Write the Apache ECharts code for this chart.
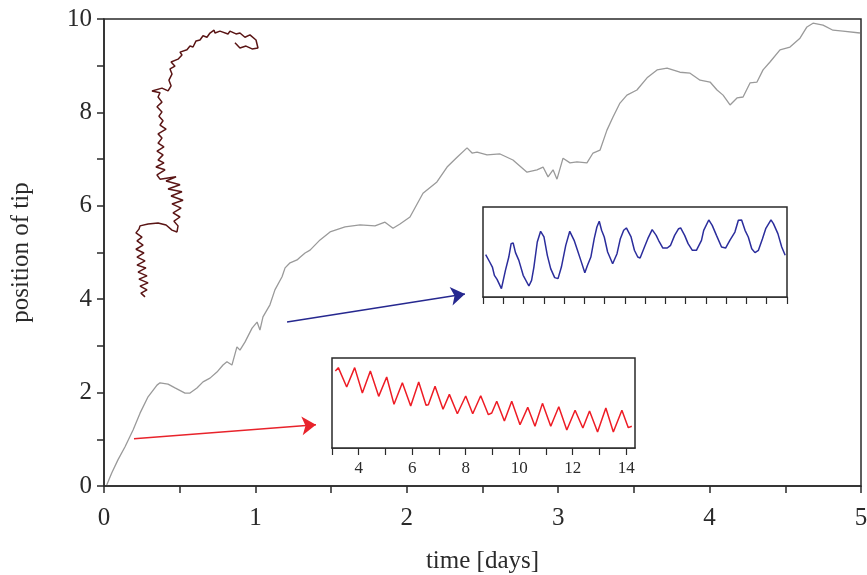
<!DOCTYPE html>
<html>
<head>
<meta charset="utf-8">
<script src="https://cdn.jsdelivr.net/npm/echarts@6/dist/echarts.min.js"></script>
<style>
  html, body { margin: 0; padding: 0; background: #fff; }
  #chart { width: 867px; height: 575px; }
</style>
</head>
<body>
<div id="chart"></div>
<script>
// main curve: position of tip vs time
var mainTime = [0.018, 0.051, 0.092, 0.139, 0.192, 0.238, 0.291, 0.350, 0.370, 0.423, 0.469, 0.535, 0.568, 0.614, 0.654, 0.700, 0.746, 0.786, 0.812, 0.845, 0.878, 0.898, 0.931, 0.978, 1.011, 1.030, 1.050, 1.096, 1.129, 1.176, 1.196, 1.229, 1.275, 1.295, 1.328, 1.361, 1.427, 1.493, 1.592, 1.691, 1.790, 1.856, 1.909, 1.955, 2.021, 2.107, 2.199, 2.266, 2.332, 2.398, 2.431, 2.464, 2.530, 2.616, 2.701, 2.794, 2.860, 2.900, 2.933, 2.966, 2.992, 3.032, 3.078, 3.124, 3.190, 3.230, 3.276, 3.322, 3.362, 3.408, 3.454, 3.520, 3.587, 3.653, 3.719, 3.804, 3.871, 3.937, 4.003, 4.049, 4.089, 4.135, 4.181, 4.221, 4.267, 4.313, 4.353, 4.399, 4.465, 4.531, 4.597, 4.643, 4.683, 4.749, 4.815, 4.881, 4.993];
var mainTip = [0.02, 0.28, 0.56, 0.84, 1.20, 1.56, 1.91, 2.16, 2.21, 2.18, 2.10, 1.99, 1.99, 2.10, 2.23, 2.31, 2.44, 2.59, 2.66, 2.59, 2.98, 2.91, 3.08, 3.38, 3.51, 3.34, 3.62, 3.88, 4.20, 4.48, 4.67, 4.78, 4.84, 4.90, 4.99, 5.05, 5.27, 5.44, 5.55, 5.59, 5.57, 5.65, 5.52, 5.61, 5.76, 6.27, 6.51, 6.83, 7.04, 7.24, 7.13, 7.15, 7.09, 7.11, 6.98, 6.72, 6.77, 6.83, 6.62, 6.77, 6.57, 7.02, 6.92, 6.94, 6.92, 7.13, 7.19, 7.62, 7.90, 8.20, 8.37, 8.48, 8.74, 8.91, 8.95, 8.86, 8.84, 8.69, 8.65, 8.48, 8.37, 8.16, 8.31, 8.33, 8.63, 8.65, 8.91, 9.08, 9.34, 9.40, 9.59, 9.83, 9.91, 9.87, 9.76, 9.74, 9.70];

// dark red trajectory drawn in the main plot
var trajX = [0.271, 0.244, 0.284, 0.238, 0.291, 0.231, 0.284, 0.225, 0.277, 0.218, 0.271, 0.218, 0.264, 0.211, 0.258, 0.218, 0.251, 0.211, 0.231, 0.238, 0.291, 0.357, 0.410, 0.449, 0.482, 0.489, 0.462, 0.502, 0.456, 0.509, 0.449, 0.522, 0.443, 0.515, 0.423, 0.502, 0.410, 0.476, 0.370, 0.350, 0.403, 0.343, 0.396, 0.357, 0.390, 0.350, 0.396, 0.357, 0.383, 0.357, 0.410, 0.370, 0.390, 0.363, 0.383, 0.350, 0.383, 0.357, 0.370, 0.317, 0.383, 0.423, 0.443, 0.429, 0.449, 0.436, 0.469, 0.443, 0.489, 0.515, 0.502, 0.548, 0.568, 0.588, 0.608, 0.634, 0.654, 0.680, 0.700, 0.727, 0.733, 0.766, 0.819, 0.832, 0.872, 0.898, 0.931, 0.964, 1.004, 1.017, 0.978, 0.938, 0.898, 0.865];
var trajY = [4.05, 4.13, 4.20, 4.28, 4.35, 4.43, 4.50, 4.58, 4.67, 4.73, 4.82, 4.90, 4.99, 5.07, 5.16, 5.25, 5.33, 5.42, 5.50, 5.57, 5.61, 5.63, 5.59, 5.48, 5.44, 5.57, 5.67, 5.76, 5.85, 5.95, 6.04, 6.12, 6.21, 6.30, 6.36, 6.45, 6.53, 6.62, 6.57, 6.66, 6.77, 6.83, 6.92, 6.98, 7.09, 7.17, 7.26, 7.34, 7.45, 7.54, 7.64, 7.73, 7.82, 7.92, 8.01, 8.12, 8.22, 8.33, 8.42, 8.46, 8.52, 8.46, 8.57, 8.69, 8.82, 8.93, 8.99, 9.08, 9.14, 9.23, 9.29, 9.34, 9.42, 9.40, 9.53, 9.55, 9.64, 9.61, 9.70, 9.76, 9.70, 9.74, 9.68, 9.74, 9.68, 9.70, 9.61, 9.66, 9.55, 9.38, 9.36, 9.42, 9.38, 9.49];

// red inset
var redT = [3.125, 3.237, 3.549, 3.848, 4.135, 4.434, 4.746, 5.045, 5.319, 5.631, 5.943, 6.242, 6.516, 6.603, 6.853, 7.152, 7.389, 7.688, 8.0, 8.262, 8.561, 8.848, 8.973, 9.160, 9.446, 9.721, 10.03, 10.32, 10.59, 10.87, 11.18, 11.48, 11.78, 12.09, 12.38, 12.63, 12.93, 13.24, 13.52, 13.84, 14.08, 14.21];
var redV = [85.6, 89.3, 67.8, 89.3, 61.1, 85.6, 57.4, 78.9, 48.5, 72.6, 46.7, 73.3, 47.4, 48.1, 68.5, 43.0, 59.6, 38.1, 57.8, 38.1, 58.1, 37.0, 38.9, 51.9, 30.0, 51.9, 25.9, 45.2, 24.1, 49.6, 24.1, 45.9, 20.0, 41.9, 22.2, 41.1, 17.8, 44.4, 17.8, 41.9, 22.6, 24.1];
var redTicks = [4, 6, 8, 10, 12, 14];

// blue inset
var blueT = [0.132, 0.331, 0.463, 0.562, 0.694, 0.909, 1.107, 1.273, 1.388, 1.488, 1.603, 1.769, 1.983, 2.264, 2.397, 2.512, 2.678, 2.843, 3.008, 3.174, 3.339, 3.537, 3.702, 3.868, 4.083, 4.281, 4.496, 4.661, 4.826, 5.025, 5.157, 5.322, 5.488, 5.620, 5.736, 5.851, 5.983, 6.149, 6.397, 6.612, 6.777, 6.942, 7.074, 7.306, 7.471, 7.636, 7.752, 7.967, 8.132, 8.347, 8.545, 8.661, 8.876, 9.091, 9.256, 9.455, 9.653, 9.752, 9.950, 10.12, 10.33, 10.53, 10.78, 10.89, 11.14, 11.31, 11.52, 11.77, 11.97, 12.18, 12.43, 12.60, 12.76, 12.93, 13.09, 13.26, 13.42, 13.59, 13.79, 13.95, 14.21, 14.33, 14.55, 14.74, 14.91];
var blueV = [47.0, 38.9, 33.3, 24.1, 19.6, 9.3, 29.6, 44.4, 59.3, 60.0, 49.3, 40.7, 24.1, 12.2, 18.5, 33.3, 61.1, 73.0, 66.7, 46.3, 31.5, 21.5, 20.4, 33.3, 57.4, 73.0, 63.0, 51.9, 40.7, 27.0, 35.2, 44.4, 64.8, 77.8, 84.1, 74.1, 66.7, 50.0, 37.0, 48.1, 64.8, 74.1, 76.7, 66.7, 51.9, 44.4, 43.3, 55.6, 64.8, 74.8, 68.5, 63.0, 54.4, 54.4, 57.4, 68.5, 75.9, 76.7, 68.5, 59.3, 51.9, 51.9, 63.0, 74.1, 85.6, 79.6, 68.5, 55.6, 54.4, 63.0, 72.2, 85.2, 85.6, 74.1, 66.7, 53.7, 49.3, 51.9, 64.8, 75.9, 85.6, 81.5, 70.4, 55.6, 46.3];

// arrows (main plot data units): [from, to]
var blueArrow = [[1.209, 3.51], [2.384, 4.11]];
var redArrow = [[0.198, 1.01], [1.400, 1.31]];

function zip(a, b) {
    return a.map(function (v, i) { return [v, b[i]]; });
}

var serif = 'Liberation Serif';
var ink = '#2a2a2a';

var chart = echarts.init(document.getElementById('chart'));

var option = {
    animation: false,
    backgroundColor: '#fff',
    grid: [
        { left: 104, top: 19, right: 6, bottom: 89, outerBoundsMode: 'none', show: true, borderColor: ink, borderWidth: 1.5 },
        { left: 483, top: 207, width: 304, height: 90, outerBoundsMode: 'none', show: true, borderColor: ink, borderWidth: 1.5, backgroundColor: '#fff', z: 5 },
        { left: 332, top: 358, width: 303, height: 90, outerBoundsMode: 'none', show: true, borderColor: ink, borderWidth: 1.5, backgroundColor: '#fff', z: 5 }
    ],
    xAxis: [
        {
            gridIndex: 0, type: 'value', min: 0, max: 5, interval: 0.5,
            name: 'time [days]', nameLocation: 'middle', nameGap: 63,
            nameTextStyle: { fontFamily: serif, fontSize: 25, color: ink },
            axisLine: { lineStyle: { color: ink, width: 1.5 } },
            axisTick: { length: 7, lineStyle: { color: ink, width: 1.5 } },
            axisLabel: {
                margin: 20, fontFamily: serif, fontSize: 25, color: ink,
                formatter: function (v) { return v % 1 === 0 ? String(v) : ''; }
            },
            splitLine: { show: false }
        },
        {
            gridIndex: 1, type: 'value', min: 0, max: 15, interval: 1,
            axisLine: { lineStyle: { color: ink, width: 1.5 } },
            axisTick: { length: 7, lineStyle: { color: ink, width: 1.2 } },
            axisLabel: { show: false },
            splitLine: { show: false }
        },
        {
            gridIndex: 2, type: 'value', min: 3, max: 14.33, interval: 1,
            axisLine: { lineStyle: { color: ink, width: 1.5 } },
            axisTick: { length: 7, lineStyle: { color: ink, width: 1.2 } },
            axisLabel: {
                margin: 12, fontFamily: serif, fontSize: 17, color: ink, showMaxLabel: false,
                formatter: function (v) { return redTicks.indexOf(v) >= 0 ? String(v) : ''; }
            },
            splitLine: { show: false }
        }
    ],
    yAxis: [
        {
            gridIndex: 0, type: 'value', min: 0, max: 10, interval: 1,
            name: 'position of tip', nameLocation: 'middle', nameGap: 70,
            nameTextStyle: { fontFamily: serif, fontSize: 25, color: ink },
            axisLine: { lineStyle: { color: ink, width: 1.5 } },
            axisTick: { length: 7, lineStyle: { color: ink, width: 1.5 } },
            axisLabel: {
                margin: 12, fontFamily: serif, fontSize: 25, color: ink,
                formatter: function (v) { return v % 2 === 0 ? String(v) : ''; }
            },
            splitLine: { show: false }
        },
        { gridIndex: 1, type: 'value', min: 0, max: 100, show: false },
        { gridIndex: 2, type: 'value', min: 0, max: 100, show: false }
    ],
    series: [
        {
            type: 'line', xAxisIndex: 0, yAxisIndex: 0,
            data: zip(mainTime, mainTip),
            showSymbol: false, symbol: 'none',
            lineStyle: { color: '#9a9a9a', width: 1.3 },
            markLine: {
                silent: true,
                symbol: ['none', 'arrow'],
                symbolSize: 14,
                label: { show: false },
                data: [
                    [{ coord: blueArrow[0], lineStyle: { color: '#26288f', width: 1.5, type: 'solid' } },
                     { coord: blueArrow[1] }],
                    [{ coord: redArrow[0], lineStyle: { color: '#e8232b', width: 1.5, type: 'solid' } },
                     { coord: redArrow[1] }]
                ]
            }
        },
        {
            type: 'line', xAxisIndex: 0, yAxisIndex: 0,
            data: zip(trajX, trajY),
            showSymbol: false, symbol: 'none',
            lineStyle: { color: '#5a1515', width: 1.5 }
        },
        {
            type: 'line', xAxisIndex: 1, yAxisIndex: 1, z: 6,
            data: zip(blueT, blueV),
            showSymbol: false, symbol: 'none',
            lineStyle: { color: '#2b2d9c', width: 1.5 }
        },
        {
            type: 'line', xAxisIndex: 2, yAxisIndex: 2, z: 6,
            data: zip(redT, redV),
            showSymbol: false, symbol: 'none',
            lineStyle: { color: '#ee1c25', width: 1.5 }
        }
    ]
};

chart.setOption(option);
</script>
</body>
</html>
